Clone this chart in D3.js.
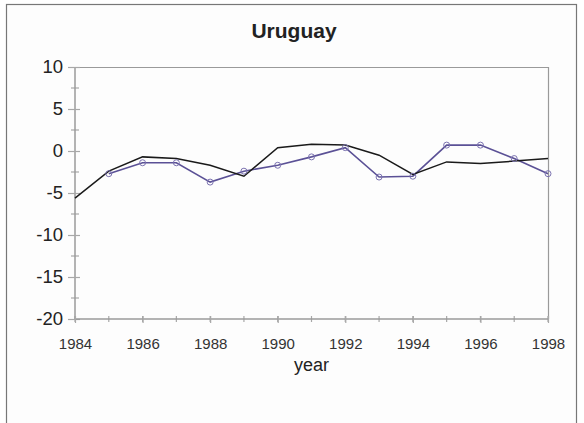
<!doctype html>
<html>
<head>
<meta charset="utf-8">
<style>
  body { margin: 0; background: #fff; }
  svg { display: block; font-family: Arial, "Liberation Sans", sans-serif; }
</style>
</head>
<body>
<svg id="chart" width="584" height="423"></svg>
<script src="https://d3js.org/d3.v7.min.js"></script>
<script>
// values
const years = [1984, 1985, 1986, 1987, 1988, 1989, 1990, 1991, 1992, 1993, 1994, 1995, 1996, 1997, 1998];
const blackVals = [-5.6, -2.4, -0.7, -0.9, -1.7, -3.0, 0.4, 0.8, 0.7, -0.5, -2.8, -1.3, -1.5, -1.2, -0.9];
const purpleYears = [1985, 1986, 1987, 1988, 1989, 1990, 1991, 1992, 1993, 1994, 1995, 1996, 1997, 1998];
const purpleVals = [-2.7, -1.4, -1.4, -3.7, -2.4, -1.7, -0.7, 0.4, -3.1, -3.0, 0.7, 0.7, -0.9, -2.7];
const yTicks = [10, 5, 0, -5, -10, -15, -20];
const xTicks = [1984, 1986, 1988, 1990, 1992, 1994, 1996, 1998];

let margin = { top: 67, left: 75, right: 36, bottom: 104 };
let width = 584 - margin.left - margin.right;
let height = 423 - margin.top - margin.bottom;

let svg = d3.select("#chart");

// outer frame
svg.append("rect")
  .attr("x", 6.5).attr("y", 4.5)
  .attr("width", 570).attr("height", 430)
  .attr("fill", "#fdfdfd")
  .attr("stroke", "#777").attr("stroke-width", 1.2);

svg.append("text")
  .attr("x", 294).attr("y", 38)
  .attr("text-anchor", "middle")
  .style("font-size", "21px").style("font-weight", "bold")
  .attr("fill", "#222")
  .text("Uruguay");

let g = svg.append("g").attr("transform", "translate(" + margin.left + "," + margin.top + ")");

let x = d3.scaleLinear().domain([1984, 1998]).range([0, width]);
let y = d3.scaleLinear().domain([-20, 10]).range([height, 0]);

// plot box top and right
g.append("path")
  .attr("d", "M0,0.5H" + (width + 0.5) + "V" + height)
  .attr("fill", "none").attr("stroke", "#9a9a9a").attr("stroke-width", 1.2);

// y minor ticks
g.append("g").selectAll("line")
  .data(d3.range(-17.5, 10, 5))
  .join("line")
  .attr("x1", -4).attr("x2", 4)
  .attr("y1", d => y(d)).attr("y2", d => y(d))
  .attr("stroke", "#a8a8a8").attr("stroke-width", 1.2);

// x minor ticks (every year)
g.append("g").selectAll("line")
  .data(years)
  .join("line")
  .attr("x1", d => x(d)).attr("x2", d => x(d))
  .attr("y1", height - 3).attr("y2", height + 3)
  .attr("stroke", "#a8a8a8").attr("stroke-width", 1.2);

let yAxis = g.append("g")
  .call(d3.axisLeft(y).tickValues(yTicks).tickSize(7).tickPadding(5).tickFormat(d3.format("d")));
yAxis.selectAll("line").attr("x2", -7).attr("x1", 5);
yAxis.select(".domain").attr("stroke", "#9a9a9a").attr("stroke-width", 1.5).attr("d", "M0,0V" + height);
yAxis.selectAll("line").attr("stroke", "#a8a8a8").attr("stroke-width", 1.2);
yAxis.selectAll("text").style("font-size", "18.5px").attr("fill", "#222").attr("font-family", "Arial, 'Liberation Sans', sans-serif")
  .text(d => d < 0 ? "-" + Math.abs(d) : d);

let xAxis = g.append("g")
  .attr("transform", "translate(0," + height + ")")
  .call(d3.axisBottom(x).tickValues(xTicks).tickSize(4).tickPadding(15).tickFormat(d3.format("d")));
xAxis.select(".domain").attr("stroke", "#9a9a9a").attr("stroke-width", 1.5).attr("d", "M0,0H" + width);
xAxis.selectAll("line").attr("y1", -3).attr("stroke", "#a8a8a8").attr("stroke-width", 1.2);
xAxis.selectAll("text").style("font-size", "15px").attr("fill", "#333").attr("font-family", "Arial, 'Liberation Sans', sans-serif");

g.append("text")
  .attr("x", width / 2).attr("y", height + 52)
  .attr("text-anchor", "middle")
  .style("font-size", "18px").attr("fill", "#222")
  .text("year");

let line = d3.line().x(d => x(d[0])).y(d => y(d[1]));

let purple = purpleYears.map((yr, i) => [yr, purpleVals[i]]);
let black = years.map((yr, i) => [yr, blackVals[i]]);

g.append("path")
  .datum(purple)
  .attr("d", line)
  .attr("fill", "none").attr("stroke", "#5b5196").attr("stroke-width", 1.6);

g.append("path")
  .datum(black)
  .attr("d", line)
  .attr("fill", "none").attr("stroke", "#1a1a1a").attr("stroke-width", 1.5);

g.append("g").selectAll("circle")
  .data(purple)
  .join("circle")
  .attr("cx", d => x(d[0])).attr("cy", d => y(d[1]))
  .attr("r", 3)
  .attr("fill", "none").attr("stroke", "#7b72b0").attr("stroke-width", 1);
</script>
</body>
</html>
